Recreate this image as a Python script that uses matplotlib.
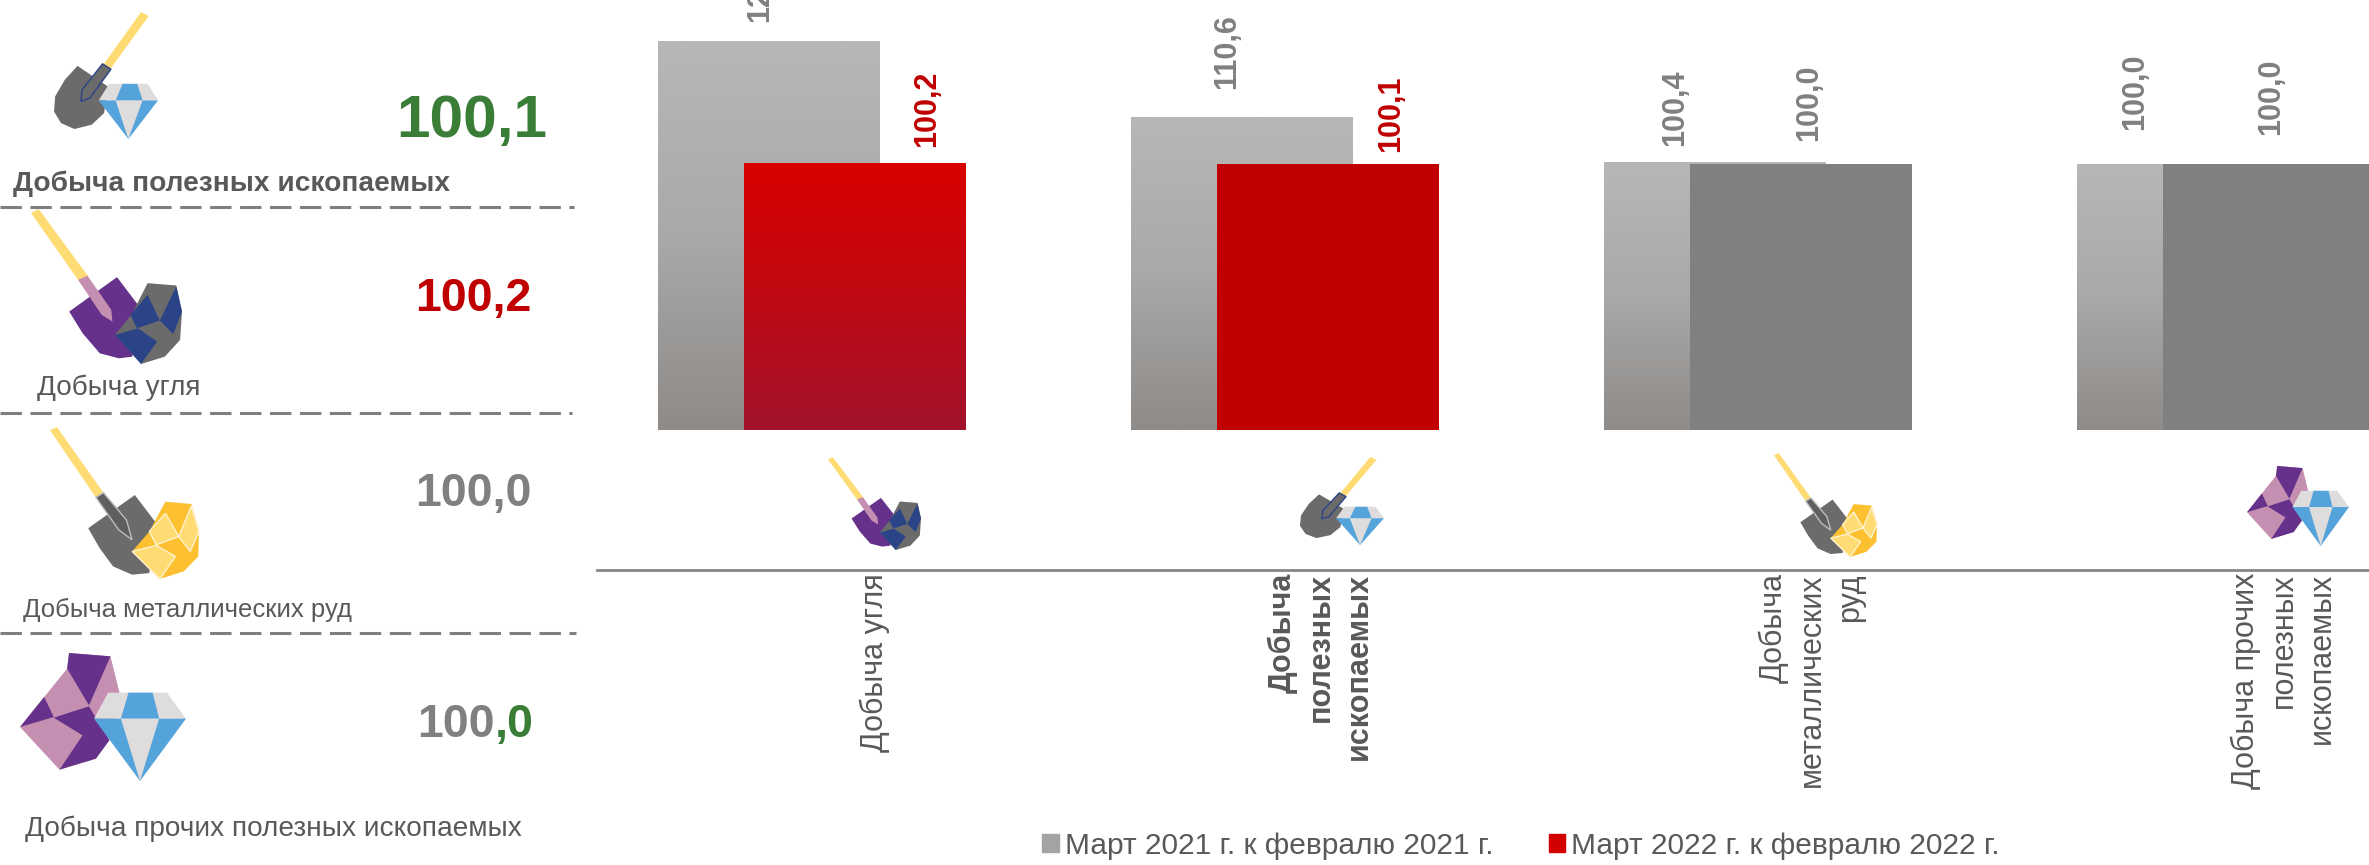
import numpy as np
import matplotlib
matplotlib.use('Agg')
import matplotlib.pyplot as plt
from matplotlib.colors import LinearSegmentedColormap
from matplotlib.patches import Patch, Polygon

plt.rcParams['font.family'] = ['Liberation Sans', 'DejaVu Sans']

W, H = 2369, 865

categories = ['Добыча угля', 'Добыча\nполезных\nископаемых',
              'Добыча\nметаллических\nруд', 'Добыча прочих\nполезных\nископаемых']
march_2021 = [127.7, 110.6, 100.4, 100.0]
march_2022 = [100.2, 100.1, 100.0, 100.0]
value_labels_2021 = ['127,7', '110,6', '100,4', '100,0']
value_labels_2022 = ['100,2', '100,1', '100,0', '100,0']
series_names = ['Март 2021 г. к февралю 2021 г.', 'Март 2022 г. к февралю 2022 г.']

GRAY_TXT = '#595959'
MID_GRAY = '#808080'
RED = '#C00000'
GREEN = '#3A7D37'
YEL, GOLD = '#FFDC73', '#FDC030'
SLATE, PURPLE, PINK, NAVY = '#6B6B6B', '#65318A', '#C48FB0', '#2B4488'
ICE, SKY = '#DEDCDC', '#55A3DB'

fig = plt.figure(figsize=(W / 100, H / 100), dpi=100, facecolor='white')

# full-figure layer in pixel coordinates, for the left panel and icons
bg = fig.add_axes([0, 0, 1, 1])
bg.set_xlim(0, W)
bg.set_ylim(H, 0)
bg.axis('off')

# ---------------------------------------------------------------
# Bars
# ---------------------------------------------------------------
PX_PER_UNIT = 4.43
AX_LEFT, AX_BOTTOM = 597, 570
BASE = 40
ax = fig.add_axes([AX_LEFT / W, (H - AX_BOTTOM) / H, (W - AX_LEFT) / W, AX_BOTTOM / H])
ax.patch.set_alpha(0)

GROUP_PX = 473
xlim = ((AX_LEFT - 812) / GROUP_PX, (W - 812) / GROUP_PX)
ylim_low = 100 - (AX_BOTTOM - 164) / PX_PER_UNIT
ylim = (ylim_low, ylim_low + AX_BOTTOM / PX_PER_UNIT)

bar_w = 222 / GROUP_PX
shift = 43 / GROUP_PX
x = np.arange(len(categories))


def gradient_bar(patch, colors, z):
    cmap = LinearSegmentedColormap.from_list('g', colors)
    x0, x1 = patch.get_x(), patch.get_x() + patch.get_width()
    y0, y1 = patch.get_y(), patch.get_y() + patch.get_height()
    im = ax.imshow(np.linspace(0, 1, 256).reshape(-1, 1), cmap=cmap, aspect='auto',
                   extent=(x0, x1, y0, y1), origin='upper', zorder=z,
                   interpolation='bilinear')
    im.set_clip_path(patch)


gray_ramp = ['#B8B7B5', '#AAA9A7', '#8E8B89']
bars_21 = ax.bar(x - shift, np.array(march_2021) - BASE, bar_w, bottom=BASE,
                 color='#A5A3A2', zorder=2)
bars_22 = ax.bar(x + shift, np.array(march_2022) - BASE, bar_w, bottom=BASE,
                 color=[RED, RED, MID_GRAY, MID_GRAY], zorder=3)
for b in bars_21:
    gradient_bar(b, gray_ramp, 2)
gradient_bar(bars_22[0], ['#D90000', '#C00A14', '#A1122C'], 3)

ax.set_xlim(*xlim)
ax.set_ylim(*ylim)
ax.set_yticks([])
ax.set_xticks([])
for s in ['top', 'left', 'right']:
    ax.spines[s].set_visible(False)
ax.spines['bottom'].set_color('#868686')
ax.spines['bottom'].set_linewidth(2)

# value labels, shifted by hand like the original slide
off_21 = [(-9, 19), (-15, 28), (-40, 16), (-53, 34)]
off_22 = [(72, 16), (63, 12), (8, 23), (-3, 29)]
for i in range(len(categories)):
    ax.annotate(value_labels_2021[i], (x[i] - shift, march_2021[i]), xytext=off_21[i],
                textcoords='offset pixels', rotation=90, ha='center', va='bottom',
                color=MID_GRAY, fontsize=22, fontweight='bold',
                annotation_clip=False, zorder=5)
    ax.annotate(value_labels_2022[i], (x[i] + shift, march_2022[i]), xytext=off_22[i],
                textcoords='offset pixels', rotation=90, ha='center', va='bottom',
                color=RED if i < 2 else MID_GRAY,
                fontsize=22, fontweight='bold', annotation_clip=False, zorder=5)

# category labels hang under the axis line
cat_off = [63, 36, 54, 53]
for i, lab in enumerate(categories):
    ax.annotate(lab, (x[i], 0), xycoords=ax.get_xaxis_transform(), xytext=(cat_off[i], -3),
                textcoords='offset pixels', rotation=90, ha='center', va='top',
                multialignment='right', color=GRAY_TXT, fontsize=22,
                fontweight='bold' if i == 1 else 'normal', linespacing=1.35,
                annotation_clip=False)

# legend
leg = fig.legend(handles=[Patch(color='#A5A3A2', label=series_names[0]),
                          Patch(color='#D20000', label=series_names[1])],
                 ncol=2, loc='center', bbox_to_anchor=(1521 / W, 1 - 846 / H), frameon=False,
                 fontsize=21.5, labelcolor=GRAY_TXT, handlelength=0.55, handleheight=0.55,
                 handletextpad=0.2, columnspacing=1.85)

# ---------------------------------------------------------------
# Icons - polygons in zoomed-crop units, fitted into a pixel box
# ---------------------------------------------------------------
DIAMOND_A = [
    ([(285, 252), (385, 252), (412, 302), (258, 302)], ICE),
    ([(320, 252), (358, 252), (372, 302), (302, 302)], SKY),
    ([(258, 302), (412, 302), (335, 418)], SKY),
    ([(302, 302), (372, 302), (335, 418)], ICE),
]
ICON_A = [
    ([(368, 36), (388, 48), (290, 205), (270, 195)], YEL),
    ([(203, 198), (282, 260), (272, 340), (240, 375), (195, 388), (160, 370),
      (142, 335), (145, 290), (170, 240)], SLATE),
    ([(268, 192), (290, 208), (235, 295), (212, 305), (215, 270)], SLATE, NAVY),
] + DIAMOND_A
ICON_B = [
    ([(80, 640), (100, 628), (230, 830), (205, 843)], YEL),
    ([(180, 935), (305, 832), (360, 915), (345, 1070), (310, 1075), (260, 1060),
      (215, 1000)], PURPLE),
    ([(203, 840), (228, 828), (290, 930), (293, 965), (265, 945)], PINK),
    ([(385, 850), (460, 857), (475, 935), (470, 1020), (430, 1070), (368, 1092),
      (300, 1005), (345, 940)], SLATE),
    ([(385, 885), (417, 962), (357, 985), (340, 945)], NAVY),
    ([(460, 860), (475, 935), (452, 1003), (417, 962)], NAVY),
    ([(300, 1005), (360, 985), (410, 1025), (368, 1092)], NAVY),
]
ICON_C = [
    ([(130, 30), (148, 20), (270, 218), (250, 232)], YEL),
    ([(230, 325), (352, 225), (405, 305), (390, 460), (345, 465), (295, 440),
      (260, 385)], SLATE),
    ([(250, 232), (270, 218), (330, 300), (345, 360), (310, 330)], '#5F5F5F', '#BDBDBD'),
    ([(432, 245), (500, 252), (520, 330), (518, 410), (480, 455), (418, 478),
      (345, 395), (390, 335)], GOLD),
    ([(432, 280), (467, 350), (408, 375), (390, 335)], YEL, '#FFF2CC'),
    ([(500, 258), (520, 335), (497, 395), (467, 350)], YEL, '#FFF2CC'),
    ([(345, 395), (408, 377), (458, 410), (418, 478)], YEL, '#FFF2CC'),
]
ICON_D = [
    ([(180, 698), (288, 708), (312, 820), (285, 960), (250, 1015), (155, 1048),
      (52, 920), (115, 830), (175, 745)], PINK),
    ([(180, 698), (288, 708), (232, 855), (175, 745)], PURPLE),
    ([(115, 830), (140, 890), (52, 920)], PURPLE),
    ([(140, 892), (232, 858), (285, 960), (250, 1015), (155, 1048), (215, 945)], PURPLE),
    ([(282, 817), (435, 817), (485, 895), (245, 895)], ICE),
    ([(335, 817), (398, 817), (415, 895), (315, 895)], SKY),
    ([(245, 895), (485, 895), (365, 1082)], SKY),
    ([(315, 895), (415, 895), (365, 1082)], ICE),
]


def draw_icon(polys, box):
    pts = np.array([p for item in polys for p in item[0]], dtype=float)
    lo, hi = pts.min(axis=0), pts.max(axis=0)
    x0, x1, y0, y1 = box
    for item in polys:
        xy = (np.array(item[0], dtype=float) - lo) / (hi - lo)
        xy = xy * [x1 - x0, y1 - y0] + [x0, y0]
        edge = item[2] if len(item) > 2 else 'none'
        bg.add_patch(Polygon(xy, closed=True, facecolor=item[1], edgecolor=edge,
                             linewidth=1.0 if len(item) > 2 else 0))


draw_icon(ICON_A, (54, 158, 12, 139))
draw_icon(ICON_B, (31, 182, 209, 364))
draw_icon(ICON_C, (50, 199, 427, 579))
draw_icon(ICON_D, (20, 186, 653, 781))
draw_icon(ICON_B, (828, 921, 457, 550))
draw_icon(ICON_A, (1300, 1384, 457, 545))
draw_icon(ICON_C, (1774, 1877, 453, 557))
draw_icon(ICON_D, (2247, 2349, 466, 546))

# ---------------------------------------------------------------
# Left panel
# ---------------------------------------------------------------
for y_, x1 in [(207, 574), (413, 572), (633, 576)]:
    bg.plot([0, x1], [y_, y_], color='#7F7F7F', lw=2.2, dashes=(7, 2.8), solid_capstyle='butt')

panel_labels = ['Добыча полезных ископаемых', 'Добыча угля',
                'Добыча металлических руд', 'Добыча прочих полезных ископаемых']
label_pos = [(13, 184), (37, 388), (23, 610), (25, 829)]
label_size = [20.25, 20.1, 18.5, 20.2]
for i, lab in enumerate(panel_labels):
    bg.text(*label_pos[i], lab, color=GRAY_TXT, fontsize=label_size[i], va='center',
            fontweight='bold' if i == 0 else 'normal')

bg.text(472, 121, '100,1', color=GREEN, fontsize=43.5, fontweight='bold', ha='center', va='center')
bg.text(473, 299, '100,2', color=RED, fontsize=33.5, fontweight='bold', ha='center', va='center')
bg.text(473, 494, '100,0', color=MID_GRAY, fontsize=33.5, fontweight='bold', ha='center', va='center')
bg.text(495, 725, '100', color=MID_GRAY, fontsize=33.5, fontweight='bold', ha='right', va='center')
bg.text(495, 725, ',0', color=GREEN, fontsize=33.5, fontweight='bold', ha='left', va='center')

fig.savefig('out.png', dpi=100, facecolor='white')
